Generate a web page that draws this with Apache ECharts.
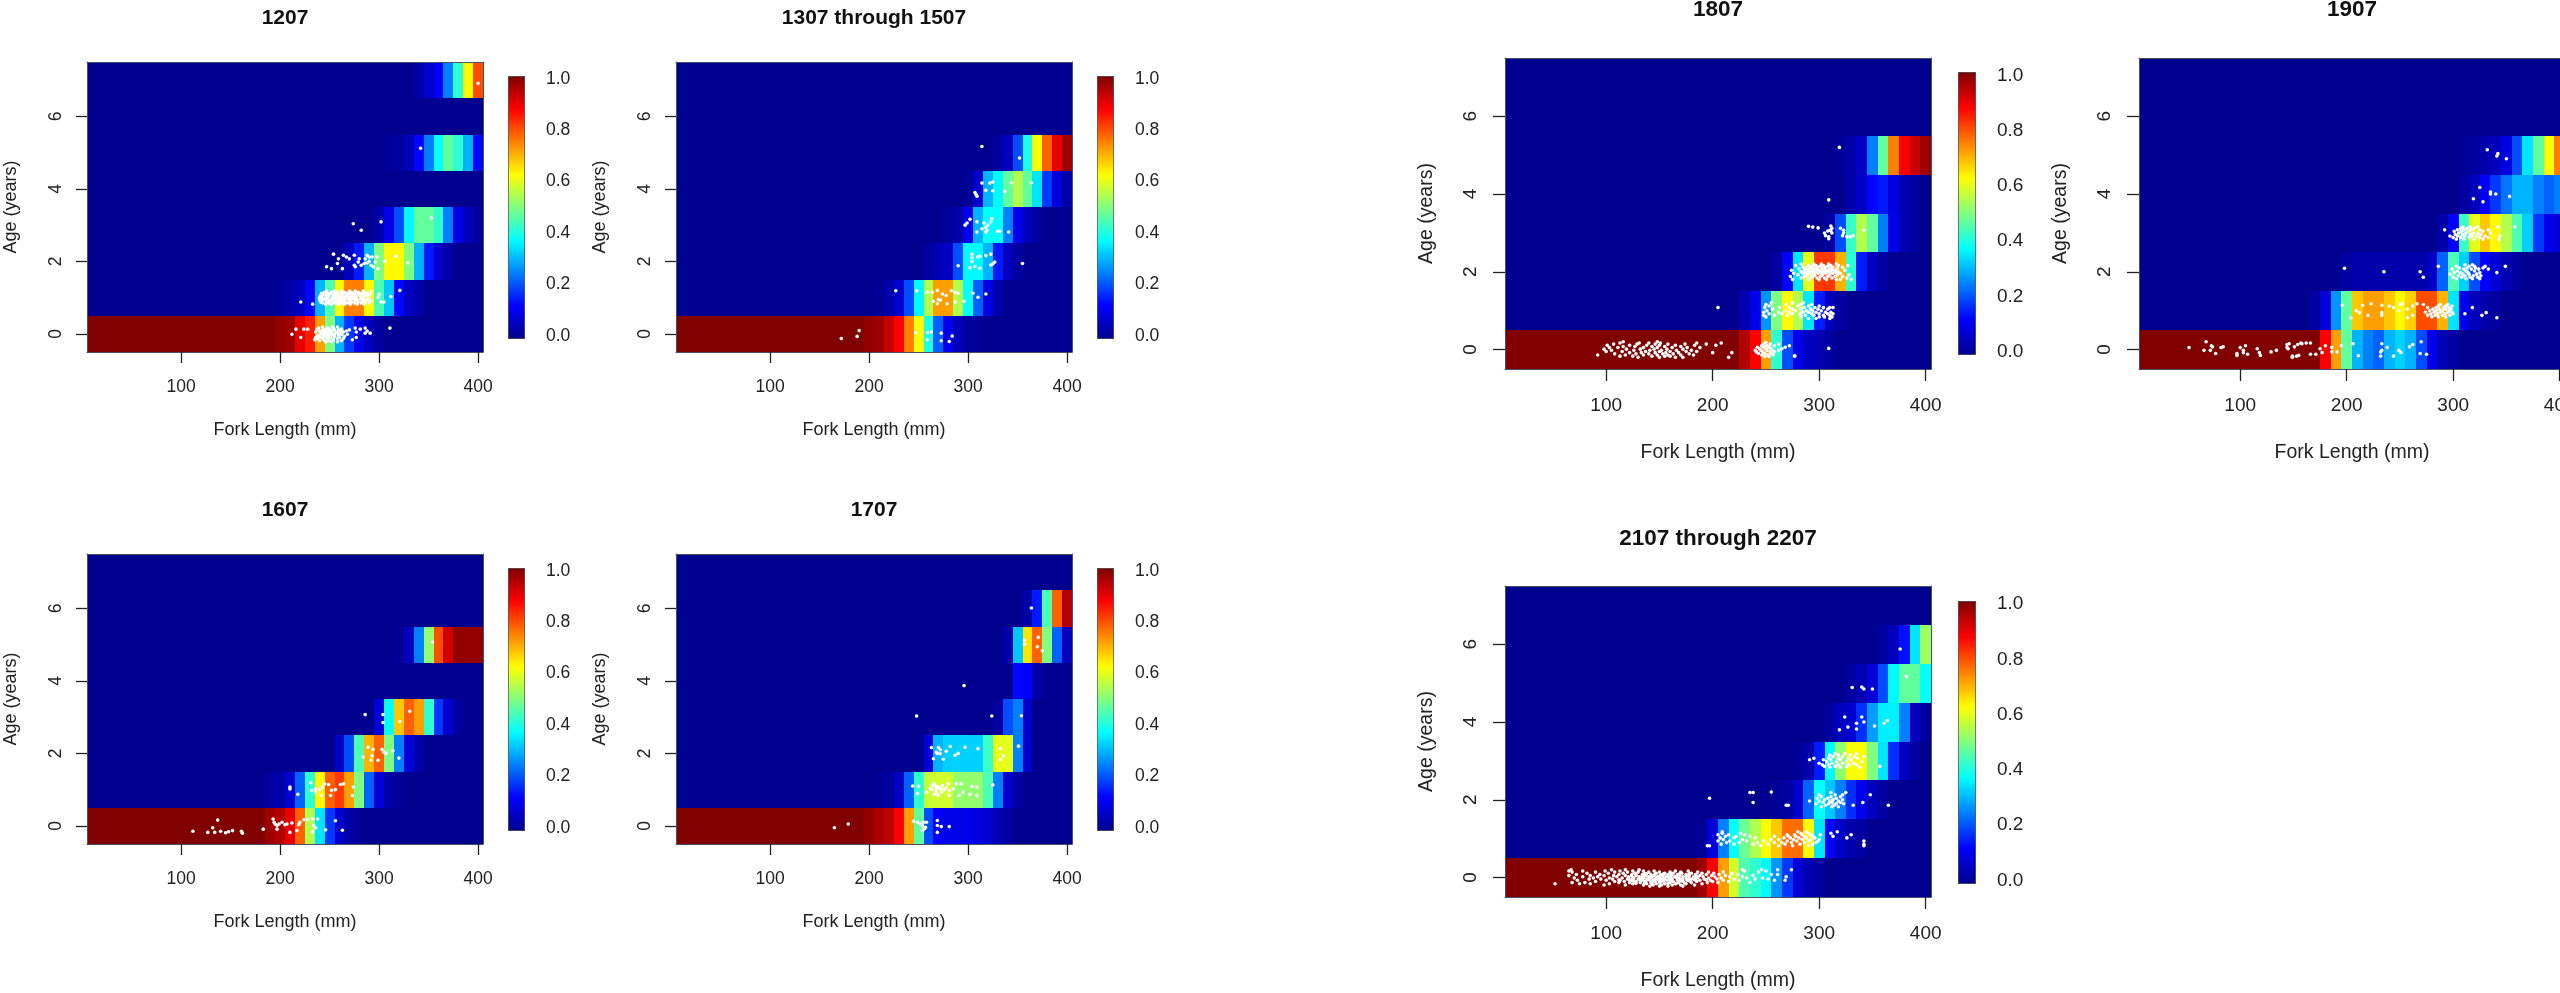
<!DOCTYPE html>
<html><head><meta charset="utf-8">
<style>html,body{margin:0;padding:0;background:#fff;overflow:hidden}#c{width:2560px;height:993px}</style>
<script src="https://cdn.jsdelivr.net/npm/echarts@6/dist/echarts.min.js"></script>
</head><body><div id="c"></div>
<script>
const lengths = ['10','20','30','40','50','60','70','80','90','100','110','120','130','140','150','160','170','180','190','200','210','220','230','240','250','260','270','280','290','300','310','320','330','340','350','360','370','380','390','400'];
const ages = ['0','1','2','3','4','5','6','7'];
const colorTicks = [0,0.2,0.4,0.6,0.8,1];
const jet = ['#00008f','#0000ff','#0080ff','#00ffff','#80ff80','#ffff00','#ff8000','#ff0000','#800000'];

// age 0 probability is 1.0 up to and including these lengths
const full1207 = 190, full1307 = 190, full1607 = 180, full1707 = 190, full1807 = 220, full1907 = 170, full2107 = 180;
// key rows: [age, first length, values...]
const key1207 = [
[0,200,.98,.97,.9,.85,.72,.5,.3,.18,.1,.05,.02],
[1,200,.01,.03,.05,.12,.3,.45,.63,.75,.75,.63,.45,.32,.13,.06,.03],
[2,270,.05,.15,.3,.5,.63,.63,.5,.3,.15,.07,.03],
[3,300,.03,.1,.2,.37,.47,.47,.42,.25,.1,.05,.02],
[5,310,.01,.02,.05,.13,.25,.38,.47,.42,.3,.13],
[7,340,.03,.07,.12,.25,.42,.63,.8]];
const key1307 = [
[0,200,.98,.97,.93,.88,.75,.62,.4,.22,.1,.05,.02,.01],
[1,210,.01,.03,.07,.2,.37,.55,.72,.72,.55,.38,.22,.09,.03],
[2,260,.02,.04,.06,.2,.37,.37,.3,.15,.05,.02],
[3,280,.01,.03,.1,.3,.38,.38,.25,.1,.05,.02],
[4,300,.01,.07,.3,.37,.47,.55,.47,.35,.18,.08,.03],
[5,330,.02,.05,.2,.4,.62,.78,.9,.97]];
const key1607 = [
[0,190,.97,.95,.9,.78,.55,.35,.18,.07,.03,.01],
[1,190,.02,.03,.07,.22,.42,.63,.78,.82,.72,.5,.22,.08,.03,.01],
[2,260,.06,.2,.45,.7,.78,.5,.25,.08,.03],
[3,300,.08,.38,.68,.78,.72,.42,.18,.07,.02],
[5,320,.01,.05,.25,.52,.8,.92,.98,.98,.98]];
const key1707 = [
[0,200,.98,.96,.94,.88,.72,.47,.2,.12,.1,.1,.1,.09,.07,.04,.02],
[1,210,.01,.02,.06,.22,.42,.57,.58,.58,.52,.52,.52,.45,.25,.07,.02],
[2,260,.08,.3,.33,.33,.33,.33,.43,.6,.6,.25,.07],
[3,330,.02,.2,.25,.07],
[4,350,.13,.12,.03],
[5,340,.03,.32,.65,.78,.5,.22,.05],
[6,360,.03,.15,.45,.78,.95]];
const key1807 = [
[0,230,.95,.88,.72,.42,.2,.1,.06,.04,.02],
[1,230,.04,.1,.27,.5,.63,.55,.35,.15,.05,.02],
[2,260,.02,.12,.35,.6,.82,.82,.7,.42,.15,.05,.02],
[3,310,.02,.2,.43,.55,.47,.25,.1,.04,.02],
[4,330,.03,.06,.13,.15,.09,.04,.02],
[5,320,.01,.03,.06,.25,.47,.75,.88,.93,.97]];
const key1907 = [
[0,180,.88,.72,.47,.3,.25,.22,.3,.33,.3,.2,.1,.04,.02],
[1,170,.02,.08,.27,.47,.68,.72,.72,.68,.63,.67,.8,.8,.7,.35,.1,.05,.03,.02],
[2,200,.02,.03,.03,.03,.03,.03,.03,.03,.06,.22,.45,.33,.2,.12,.08,.04,.02],
[3,290,.03,.12,.43,.6,.68,.63,.55,.45,.33,.18,.1,.08],
[4,310,.02,.05,.12,.18,.24,.3,.3,.25,.22,.25],
[5,310,.01,.02,.03,.05,.09,.2,.35,.47,.62,.75]];
const key2107 = [
[0,190,.97,.88,.72,.58,.45,.42,.37,.27,.18,.08,.04,.02],
[1,190,.01,.08,.25,.38,.48,.55,.62,.68,.77,.77,.63,.35,.12,.06,.03,.02],
[2,260,.01,.02,.07,.22,.38,.32,.25,.17,.1,.05,.02],
[3,280,.01,.03,.15,.37,.52,.62,.62,.5,.35,.17,.05,.02],
[4,310,.02,.05,.07,.17,.28,.36,.36,.25,.05,.02],
[5,330,.02,.04,.08,.2,.37,.47,.47,.38],
[6,360,.02,.05,.14,.35,.53]];

// fish rows: [jittered age, length, length, ...]
const fish1207 = [
[-.22,252,246,258],[-.19,240,262,249],[-.16,235,254,273,244],[-.13,248,258,238,264],[-.1,221,242,251,277,236,260],[-.07,245,255,265,240],[-.04,238,250,259,248],[-.01,212,243,253,262,247,268],[.02,241,256,291,251,246,260,286],[.05,236,249,258,277,264,244],[.08,240,252,262,288,247,267],[.11,237,245,255,259,270,243],[.13,216,224,228,250,281,262],[.16,239,248,311,276,254,286],[.19,243,253,258],
[.82,233,246,252,259,265,271,278,285],[.85,243,249,256,262,268,275,282,290],[.88,221,241,247,254,260,266,272,279,286,305,302],[.91,242,250,257,263,270,276,283,292],[.94,240,245,252,259,265,272,278,285,288],[.97,243,248,255,261,268,274,281,290],[1,240,246,253,259,265,271,277,284,299],[1.03,242,249,256,262,269,275,282,289,312],[1.06,241,247,254,260,267,273,280,286],[1.09,244,250,257,264,270,277,283,291,300],[1.12,242,248,255,262,268,274,281,288],[1.15,245,252,258,265,272,279,285],[1.18,247,255,262,270,276,284,292],[1.2,321],
[1.8,252,263,299],[1.85,247,276,294],[1.89,282,275,292],[1.94,258,285],[1.96,329,288],[1.98,279,296],[2,306,290],[2.07,259,270,286,280],[2.12,267,290,298,293],[2.14,317],[2.17,264,275,288],[2.2,254],[2.86,282],[3.04,274],[3.09,302],[3.2,353],[5.12,342],[6.91,400]];
const fish1307 = [
[-.21,281],[-.19,273],[-.16,259],[-.13,172],[-.07,188],[-.06,284],[.02,273],[.04,247,259],[.05,263],[.09,190],
[.83,269,279],[.88,287],[.9,265,296],[.95,270],[.93,272],[1.01,310],[1.06,278],[1.1,274,318],[1.12,290,305],[1.15,259,264,287],[1.19,227,248,283],[1.2,269],
[1.81,312],[1.82,302],[1.86,307],[1.88,290],[1.9,323],[1.93,325],[1.94,355],[1.98,327],[2,304],[2.1,304],[2.12,310],[2.14,312],[2.16,318],[2.2,304,323],
[2.81,309,341],[2.83,330,332],[2.86,319],[2.9,314],[2.93,318],[2.81,318],[3,297,320],[3.06,299,316],[3.09,309,323],[3.16,302],[3.18,324],
[3.8,309],[3.85,308],[3.9,307],[3.93,337],[3.95,325],[3.96,318],[4.16,314,322],[4.17,344,364],[4.19,325],[4.85,352],[5.17,314]];
const fish1607 = [
[-.2,162],[-.19,145],[-.18,127,134,210],[-.16,148],[-.15,112,140,161],[-.13,152,217],[-.12,263],[-.17,233],[-.11,246],[-.09,183,197],[-.05,132,236],[.01,197,234],[.03,205],[.04,219],[.05,195,199,207],[.08,212],[.1,194,202,220],[.14,256],[.16,137],[.17,224,228],[.19,193,233,238],
[.84,242,251,273],[.87,218],[.93,236],[.98,232,252],[1,240,256],[1.02,210,236],[1.07,210,243,274],[1.14,249,261],[1.16,245,264],[1.19,231],
[1.81,292,299],[1.87,320],[1.9,284],[1.93,293],[2,307],[2.03,305],[2.07,314],[2.11,294,303],[2.17,289],
[2.85,304],[2.88,321],[3.07,286,304],[3.16,331],[5.07,354]];
const fish1707 = [
[-.18,269],[-.13,254],[-.08,256],[-.05,165],[-.04,257],[-.02,273,281],[.01,254,269],[.05,179],[.06,252],[.1,249,255,258],[.13,245],[.15,269],
[.84,270,281,291,309],[.87,266,302],[.89,249,268],[.93,258,273,295],[.97,268,281],[1,276,264],[1.02,262,272,285],[1.05,268,278],[1.07,309,270],[1.09,250,304],[1.1,244,267],[1.11,264,274],[1.13,325],[1.16,266,280,288,293],
[1.83,333],[1.84,275],[1.85,265],[1.93,336],[1.95,287],[1.99,272],[2,290,269],[2.03,268],[2.06,278],[2.1,272],[2.13,310,333],[2.16,263,270],[2.17,297],[2.19,282],[2.2,351],
[3.03,248,324],[3.04,354],[3.87,296],[4.83,375],[4.94,370],[5.01,357],[5.12,357],[5.2,371],[6.01,364]];
const fish1807 = [
[-.2,215,130,150,165,172],[-.17,277,113,125,143,155,160],[-.14,92,118,135,148,158,170,182],[-.11,108,128,140,153,163,178],[-.08,218,122,133,146,156,168,200],[-.05,100,115,137,150,160,175,185],[-.02,105,126,141,152,166,180],[.01,98,119,132,145,157,172],[.03,309],[.05,103,111,135,148,162,176,188],[.08,116,127,143,155,170],[.11,101,122,138,150,165,183,203],[.14,107,129,146,158,194,174],[.17,113,131,140,208,185,151],[.2,116,148],
[-.18,249,253],[-.14,246,252,257],[-.1,243,249,255],[-.06,241,247,254,258],[-.02,240,245,251,256,262],[.02,244,250,255,265],[.06,242,248,253,268],[.1,246,251,258,272],[.14,248,254,262],[.18,250],[-.16,277],
[.8,290,297,310],[.84,250,283,300,312,305],[.88,248,258,270,287,295,304,310],[.92,253,265,275,282,293,300,308,313],[.96,248,262,272,285,290,297,306,311],[1,251,268,278,288,294,302],[1.04,256,275,283,292,299,308],[1.08,205,249,263,272,286,296,304,310,313],[1.12,253,280,290,300],[1.16,250,269,283,293],[1.2,255,275,285],
[1.8,275,290,300,307,316,320,330],[1.84,283,292,298,305,312,326],[1.88,273,286,294,301,308,315,322],[1.92,280,289,296,303,310,317,328],[1.96,276,285,292,299,306,313,320],[2,283,290,297,304,311,318],[2.04,274,287,294,301,308,315,324],[2.08,281,288,296,303,310,317],[2.12,285,292,299,306,313,322],[2.16,278,290,297,304,311,318,327],[2.2,283,295,302,309,316],
[1.9,288,295,302,309],[1.98,288,295,302,309,316],[2.02,286,293,300,307,314],[2.06,290,298,305,312],[2.14,294,301,308],
[3.17,290],[3.15,294],[3.13,299],[2.85,309],[2.9,309,326,329],[2.93,306,322,332],[3,305,312,323],[3.05,308,311],[3.07,342,323,310],[3.12,312,320],[3.18,311],[3.85,309],[5.2,319]];
const fish1907 = [
[-.2,149],[-.17,149,153,232,244],[-.16,211],[-.15,119,97,155],[-.12,171,275,107,166],[-.1,77,97,269],[-.08,118,103,251,177],[-.06,191,129,186,232],[-.02,66,72,134,103,233,249],[.02,116,145,175],[.05,52,186,82,238,144,100],[.07,84,74,151,259],[.1,73,105,195,180],[.13,144,154,262],[.15,146,206,158,233],[.17,157,162,166],[.2,68,270],
[.82,204,257,341],[.84,280,286,293],[.88,220,233,262,276,283,290,297,327],[.92,279,285,292,300,311],[.95,212,331,233],[.96,274,282,288,295,299],[1,209,249,278,284,290,296],[1.04,281,287,293,298,257],[1.08,276,284,291,296,244,318],[1.12,286,293,299,240,262],[1.14,196,215,233],[1.16,272,288,295,250],[1.18,223,266,252],
[1.82,303,312,318,325],[1.86,300,308,316,323,272],[1.9,305,311,319,326],[1.94,297,309,315,322],[1.98,301,307,314,325,341],[2,269,235],[2.02,304,312,320],[2.07,299,310,317,324,333],[2.09,198],[2.1,306,313,321,328],[2.14,303,315,320,330,286,349],[2.18,311,318],
[2.84,303,310,320,328,343],[2.88,300,307,315,325,333],[2.92,297,304,311,318,322,330,344],[2.96,302,309,316,326],[3,305,312,319,323,335],[3.04,301,308,314,328],[3.08,304,310,317,325,333,292],[3.12,307,313,320],[3.16,309,316,323,342,358],
[3.8,328],[3.88,319],[3.94,353],[4,335,340],[4.05,335],[4.17,325],[4.91,350],[4.98,341],[5.04,342],[5.14,332]];
const fish2107 = [
[-.22,141,150,158,172],[-.19,98,118,135,144,152,162,170,183],[-.16,52,75,85,103,125,138,147,155,165,175,190],[-.15,128,136,143,151,158,166,174],[-.13,68,80,112,122,132,142,150,160,168,180,195,205,235],[-.1,90,108,117,128,137,146,154,163,172,185,200,215],[-.085,126,135,144,152,160,170,178],[-.07,73,100,113,124,133,141,149,157,167,176,188,198,210,225,258,268],[-.055,112,122,131,139,152,160,172,183,194],[-.04,84,95,106,120,130,138,146,155,162,170,180,192,204,220,240,252],[-.025,125,133,141,147,153,161,168,178,184],[-.01,70,88,103,115,126,135,143,150,159,166,175,186,196,208,232,247],[.02,78,92,110,121,131,140,148,156,164,172,182,191,202,216,228,269],[.035,124,134,143,150,158,166,175,185],[.05,65,85,98,107,118,128,137,145,153,161,169,178,188,199,212,238],[.08,72,94,112,124,134,142,151,158,167,175,184,194,206,224,255,261],[.095,128,138,146,154,161,169,178],[.11,82,102,116,127,136,147,155,163,171,180,190,201,218],[.14,68,90,108,120,130,140,150,160,170,186,196,210,243],[.17,65,78,99,113,125,135,145,165,177,230,250],[.2,67,105,118,131,261,274,228,246],
[.82,195,197,245,262,275,290,342],[.86,208,220,238,252,268,282,294,342],[.9,213,225,242,258,265,274,286,297],[.94,205,216,232,248,270,279,290,299,342],[.98,210,228,255,262,276,284,292,300],[1.02,207,220,240,267,273,281,288,296,326],[1.06,212,222,235,258,271,278,286,294,313],[1.1,205,215,230,270,277,284,292,301,330],[1.14,209,226,283,290,311],[1.18,209,280,288,317],
[1.82,302,312,318],[1.86,332,269,271,306,314,365],[1.9,297,309,316,323],[1.93,238,341,304,320,312],[1.97,291,300,310,318],[2,305,313,322],[2.04,197,298,308,316],[2.08,302,311,320],[2.13,348,300,315,322],[2.19,235,238,311,325],[2.2,255],
[2.84,310,320,338],[2.86,357,305,315,326],[2.9,303,309,318,328,335],[2.94,300,312,322,332],[2.98,307,316,326,340],[3.03,291,304,311,320,330],[3.07,295,309,318,327,336],[3.11,313,322,333,342],[3.15,310,318,329],[3.19,315,324,335],
[3.8,319],[3.82,335],[3.87,327],[3.9,352],[3.97,335,361],[4,342],[4.04,364],[4.13,324,340],[4.85,342,350],[4.89,331],[4.9,340],[5.17,382],[5.88,376]];

const small = {font:17.5, nameFont:18, tfont:21, tickLen:11, nx:69, ny:67, lx:34, ly:31, tickH:257};
const large = {font:19, nameFont:19.5, tfont:22.5, tickLen:12, nx:74, ny:68, lx:36, ly:34, tickH:276.4};
const panels = [
 {...small, title:'1207', key:key1207, full:full1207, fish:fish1207, left:87, top:62, w:396, h:290, bar:[508,76,16,262], tickTop:78.7, tcy:18, showBar:true},
 {...small, title:'1307 through 1507', key:key1307, full:full1307, fish:fish1307, left:676, top:62, w:396, h:290, bar:[1097,76,16,262], tickTop:78.7, tcy:18, showBar:true},
 {...small, title:'1607', key:key1607, full:full1607, fish:fish1607, left:87, top:554, w:396, h:290, bar:[508,568,16,262], tickTop:570.7, tcy:510, showBar:true},
 {...small, title:'1707', key:key1707, full:full1707, fish:fish1707, left:676, top:554, w:396, h:290, bar:[1097,568,16,262], tickTop:570.7, tcy:510, showBar:true},
 {...large, title:'1807', key:key1807, full:full1807, fish:fish1807, left:1505, top:58, w:426, h:311, bar:[1958,72,17,282], tickTop:75.3, tcy:10, showBar:true},
 {...large, title:'1907', key:key1907, full:full1907, fish:fish1907, left:2139, top:58, w:426, h:311, bar:[2592,72,17,282], tickTop:75.3, tcy:10, showBar:false},
 {...large, title:'2107 through 2207', key:key2107, full:full2107, fish:fish2107, left:1505, top:586, w:426, h:311, bar:[1958,601,17,282], tickTop:604, tcy:539, showBar:true}
];
const FONT='"Liberation Sans",Arial,sans-serif', INK='#222', EDGE='#4a5068';
const drawCell = (params, api) => {
  const c = api.coord([api.value(0), api.value(1)]), s = api.size([1,1]);
  const snap = v => Math.round(+v.toFixed(3));
  const x0 = snap(c[0]-s[0]/2), x1 = snap(c[0]+s[0]/2), y0 = snap(c[1]-s[1]/2), y1 = snap(c[1]+s[1]/2);
  return {type:'rect', shape:{x:x0, y:y0, width:x1-x0, height:y1-y0}, style:{fill:api.visual('color')}};
};
const opt = {animation:false, backgroundColor:'#fff', title:[], grid:[], xAxis:[], yAxis:[], series:[], visualMap:[]};
panels.forEach(p=>{
  const g = opt.grid.length;
  opt.title.push({text:p.title, left:p.left+p.w/2, top:p.tcy-p.tfont/2, textAlign:'center', padding:0,
    textStyle:{fontFamily:FONT,fontSize:p.tfont,fontWeight:'bold',color:'#111'}});
  opt.grid.push({left:p.left, top:p.top, width:p.w, height:p.h, show:false, containLabel:false, outerBoundsMode:'none'});
  const xi = opt.xAxis.length, yi = opt.yAxis.length;
  opt.xAxis.push({type:'category', gridIndex:g, data:lengths, position:'bottom', z:5,
    name:'Fork Length (mm)', nameLocation:'middle', nameGap:p.nx,
    nameTextStyle:{fontFamily:FONT,fontSize:p.nameFont,color:INK},
    axisLine:{show:true,onZero:false,lineStyle:{color:EDGE,width:1}},
    axisTick:{show:true,alignWithLabel:true,length:p.tickLen,interval:(i,v)=>+v%100===0,lineStyle:{color:INK,width:1.3}},
    axisLabel:{interval:(i,v)=>+v%100===0,margin:p.lx-p.font/2+1,fontFamily:FONT,fontSize:p.font,color:INK},
    splitLine:{show:false}});
  opt.yAxis.push({type:'category', gridIndex:g, data:ages, position:'left', z:5,
    name:'Age (years)', nameLocation:'middle', nameGap:p.ny, nameRotate:90,
    nameTextStyle:{fontFamily:FONT,fontSize:p.nameFont,color:INK},
    axisLine:{show:true,onZero:false,lineStyle:{color:EDGE,width:1}},
    axisTick:{show:true,alignWithLabel:true,length:p.tickLen,interval:(i,v)=>+v%2===0,lineStyle:{color:INK,width:1.3}},
    axisLabel:{interval:(i,v)=>+v%2===0,rotate:90,margin:p.ly-p.font/2,fontFamily:FONT,fontSize:p.font,color:INK},
    splitLine:{show:false}});
  // value scales for the fish, drawn as the top and right of the box
  opt.xAxis.push({type:'value', gridIndex:g, min:5, max:405, position:'top', z:5,
    axisLine:{show:true,onZero:false,lineStyle:{color:EDGE,width:1}}, axisTick:{show:false}, axisLabel:{show:false}, splitLine:{show:false}});
  opt.yAxis.push({type:'value', gridIndex:g, min:-0.5, max:7.5, position:'right', z:5,
    axisLine:{show:true,onZero:false,lineStyle:{color:EDGE,width:1}}, axisTick:{show:false}, axisLabel:{show:false}, splitLine:{show:false}});
  const cells = new Map();
  p.key.forEach(([age,first,...vals])=>vals.forEach((v,i)=>cells.set(age+'|'+(first+i*10),v)));
  const data=[];
  ages.forEach((a,iy)=>lengths.forEach((l,ix)=>{
    const known = cells.get(a+'|'+l);
    const v = known!==undefined ? known : (a==='0' && +l<=p.full ? 1 : 0);
    data.push([ix,iy,v]);
  }));
  const si = opt.series.length;
  opt.series.push({type:'custom', renderItem:drawCell, xAxisIndex:xi, yAxisIndex:yi, data, silent:true, z:2, clip:false, progressive:0,
    encode:{x:0,y:1}, dimensions:['len','age','p']});
  opt.series.push({type:'scatter', xAxisIndex:xi+1, yAxisIndex:yi+1, silent:true, symbol:'circle', symbolSize:3.6, z:4,
    itemStyle:{color:'#fff',opacity:1}, data:p.fish.flatMap(([y,...xs])=>xs.map(x=>[x,y]))});
  opt.visualMap.push({type:'continuous', show:p.showBar, seriesIndex:si, dimension:2, min:0, max:1, calculable:false, hoverLink:false,
    left:p.bar[0], top:p.bar[1], itemWidth:p.bar[2], itemHeight:p.bar[3], padding:0, borderColor:'#333', borderWidth:1,
    inRange:{color:jet}, text:null});
  if(p.showBar){
    const cg = opt.grid.length;
    opt.grid.push({left:p.bar[0], top:p.tickTop, width:p.bar[2], height:p.tickH, show:false, outerBoundsMode:'none'});
    opt.xAxis.push({type:'value', gridIndex:cg, show:false, min:0, max:1});
    opt.yAxis.push({type:'value', gridIndex:cg, position:'right', min:colorTicks[0], max:colorTicks[5], interval:colorTicks[1],
      axisLine:{show:false}, axisTick:{show:true,length:11,lineStyle:{color:INK,width:1.3}},
      axisLabel:{margin:22,fontFamily:FONT,fontSize:p.font,color:INK,formatter:v=>v.toFixed(1)}, splitLine:{show:false}});
  }
});
const chart = echarts.init(document.getElementById('c'),null,{renderer:'canvas',width:2560,height:993});
chart.setOption(opt);
</script></body></html>
